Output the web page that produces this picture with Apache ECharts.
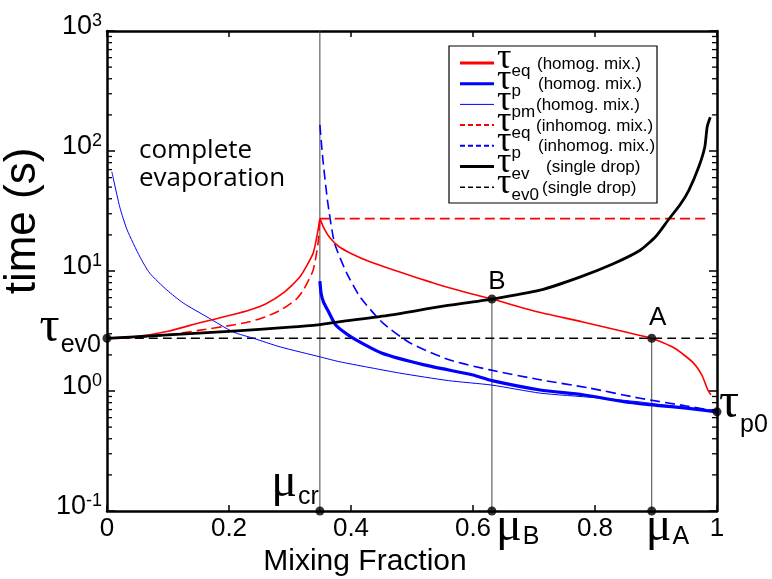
<!DOCTYPE html>
<html>
<head>
<meta charset="utf-8">
<script src="https://cdn.jsdelivr.net/npm/echarts@6/dist/echarts.min.js"></script>
<style>
html, body { margin: 0; padding: 0; background: #fff; }
#main { width: 772px; height: 579px; }
</style>
</head>
<body>
<div id="main"></div>
<script>
// Characteristic mixing fractions and reference time scales (s)
const MU_CR = 0.349;
const MU_B = 0.631;
const MU_A = 0.893;
const TAU_EV0 = 2.75;
const TAU_P0 = 0.67;
const TAU_B = 5.84;
const TAU_EQ_PEAK = 27.3;
const Y_MIN = 0.1;
const Y_MAX = 1000;
const X_TICKS = [0, 0.2, 0.4, 0.6, 0.8, 1];

// tau_eq, homogeneous mixing: rising branch up to mu_cr, then falling branch
const eqHomogRiseMu = [0, 0.05, 0.1, 0.152, 0.2, 0.234, 0.26, 0.289, 0.316, 0.338, 0.346, MU_CR];
const eqHomogRise   = [2.75, 2.85, 3.15, 3.7, 4.25, 4.73, 5.3, 6.56, 8.9, 14.1, 22, TAU_EQ_PEAK];
const eqHomogFallMu = [MU_CR, 0.356, 0.365, 0.38, 0.4, 0.43, 0.48, 0.54, 0.6, MU_B, 0.7, 0.78, 0.85, MU_A, 0.93, 0.96, 0.975, 0.985, 0.99];
const eqHomogFall   = [TAU_EQ_PEAK, 22.5, 19, 16, 14, 12, 9.8, 7.8, 6.4, TAU_B, 4.64, 3.76, 3.1, 2.75, 2.28, 1.74, 1.36, 1.02, 0.93];

// tau_p, homogeneous mixing
const pHomogMu = [MU_CR, 0.351, 0.355, 0.362, 0.375, 0.4, 0.45, 0.52, 0.6, MU_B, 0.71, 0.78, 0.85, 0.9, 0.95, 1.0];
const pHomog   = [8.25, 6.5, 5.5, 4.7, 3.55, 2.82, 2.07, 1.65, 1.36, 1.22, 1.02, 0.93, 0.81, 0.76, 0.72, 0.67];

// tau_pm, homogeneous mixing
const pmHomogMu = [0.008, 0.021, 0.033, 0.054, 0.07, 0.098, 0.125, 0.164, 0.207, 0.24, 0.284, 0.35, 0.382, 0.48, 0.56, MU_B, 0.71, 0.8, 0.874, 0.95, 1.0];
const pmHomog   = [67, 34, 22, 13.1, 9.6, 6.95, 5.41, 4.14, 3.1, 2.75, 2.33, 1.92, 1.75, 1.41, 1.22, 1.12, 0.96, 0.88, 0.81, 0.72, 0.67];

// tau_eq, inhomogeneous mixing: rising branch, then constant beyond mu_cr
const eqInhomogRiseMu = [0, 0.05, 0.098, 0.15, 0.207, 0.234, 0.26, 0.287, 0.31, 0.322, 0.338, 0.346, MU_CR];
const eqInhomogRise   = [2.75, 2.8, 2.93, 3.2, 3.55, 3.78, 4.15, 4.8, 5.8, 6.95, 10.2, 17.1, TAU_EQ_PEAK];
const eqInhomogFlatMu = [MU_CR, 0.985];
const eqInhomogFlat   = [TAU_EQ_PEAK, TAU_EQ_PEAK];

// tau_p, inhomogeneous mixing
const pInhomogMu = [MU_CR, 0.354, 0.362, 0.373, 0.393, 0.415, 0.452, 0.497, 0.562, 0.628, 0.71, 0.79, 0.874, 0.95, 1.0];
const pInhomog   = [165, 84, 36.9, 17.1, 9.6, 6.07, 3.69, 2.51, 1.81, 1.5, 1.24, 1.06, 0.87, 0.75, 0.68];

// tau_ev, single drop
const evMu = [0, 0.1, 0.2, 0.3, MU_CR, 0.382, 0.464, 0.546, MU_B, 0.71, 0.775, 0.83, 0.874, 0.9, 0.92, 0.94, 0.954, 0.97, 0.98, 0.984, 0.989];
const ev   = [2.75, 2.93, 3.14, 3.4, 3.58, 3.78, 4.29, 5.04, TAU_B, 6.93, 8.9, 11.5, 14.9, 19.5, 26.6, 36, 47.3, 73.5, 108, 160, 191];

// tau_ev0, single drop (constant)
const ev0Mu = [0, 1];
const ev0   = [TAU_EV0, TAU_EV0];

// Legend entries: subscript and note
const legendSubs  = ['eq', 'p', 'pm', 'eq', 'p', 'ev', 'ev0'];
const legendNotes = ['(homog. mix.)', '(homog. mix.)', '(homog. mix.)', '(inhomog. mix.)', '(inhomog. mix.)', '(single drop)', '(single drop)'];

const FONT = 'Liberation Sans';
const GREEK = 'Liberation Serif';
const RED = '#ff0000';
const BLUE = '#0000ff';
const BLACK = '#000000';

const pairs = (xs, ys) => xs.map((x, i) => [x, ys[i]]);

// One style per legend entry (legendWidth: stroke used for the legend sample)
const styles = [
  { color: RED,   width: 1.6, legendWidth: 3,   type: 'solid' },
  { color: BLUE,  width: 3.2, legendWidth: 3,   type: 'solid' },
  { color: BLUE,  width: 1.0, legendWidth: 1,   type: 'solid' },
  { color: RED,   width: 1.6, legendWidth: 2,   type: [10, 5] },
  { color: BLUE,  width: 1.6, legendWidth: 2,   type: [10, 5] },
  { color: BLACK, width: 2.8, legendWidth: 3,   type: 'solid' },
  { color: BLACK, width: 1.5, legendWidth: 1.6, type: [9, 5] }
];

function curve(name, styleIdx, data, z) {
  const s = styles[styleIdx];
  return {
    name: name,
    type: 'line',
    data: data,
    showSymbol: false,
    symbol: 'none',
    smooth: 0.2,
    z: z || 2,
    lineStyle: { color: s.color, width: s.width, type: s.type, join: 'round', cap: 'butt' },
    emphasis: { disabled: true }
  };
}

function guide(data) {
  return {
    type: 'line',
    data: data,
    showSymbol: false,
    symbol: 'none',
    z: 1,
    lineStyle: { color: '#444', width: 1 },
    emphasis: { disabled: true }
  };
}

const dots = [
  [0, TAU_EV0], [1, TAU_P0],
  [MU_CR, Y_MIN], [MU_B, Y_MIN], [MU_A, Y_MIN],
  [MU_B, TAU_B], [MU_A, TAU_EV0]
];

const axisLineStyle = { color: '#000', width: 2.5 };

const option = {
  animation: false,
  backgroundColor: '#fff',
  grid: { left: 107, right: 55, top: 31, bottom: 68, outerBoundsMode: 'none' },
  xAxis: [
    {
      type: 'value', min: 0, max: 1, interval: 0.2, position: 'bottom',
      axisLine: { show: true, onZero: false, lineStyle: axisLineStyle },
      axisTick: { show: true, inside: true, length: 6, lineStyle: { color: '#000', width: 1.5 } },
      axisLabel: {
        margin: 5, fontSize: 26, fontFamily: FONT, color: '#000',
        showMinLabel: true, showMaxLabel: true,
        formatter: v => String(X_TICKS.find(t => Math.abs(t - v) < 1e-9) ?? v)
      },
      splitLine: { show: false },
      name: 'Mixing Fraction', nameLocation: 'middle', nameGap: 32,
      nameTextStyle: { fontSize: 30, fontFamily: FONT, color: '#000', padding: [0, 94, 0, 0] }
    },
    {
      type: 'value', min: 0, max: 1, interval: 0.2, position: 'top',
      axisLine: { show: true, onZero: false, lineStyle: axisLineStyle },
      axisTick: { show: true, inside: true, length: 6, lineStyle: { color: '#000', width: 1.5 } },
      axisLabel: { show: false },
      splitLine: { show: false }
    }
  ],
  yAxis: [
    {
      type: 'log', logBase: 10, min: Y_MIN, max: Y_MAX, position: 'left',
      axisLine: { show: true, onZero: false, lineStyle: axisLineStyle },
      axisTick: { show: true, inside: true, length: 8, lineStyle: { color: '#000', width: 1.5 } },
      axisLabel: {
        margin: 5, color: '#000', showMinLabel: true, showMaxLabel: true,
        formatter: v => '{b|10}{s|' + Math.round(Math.log10(v)) + '}',
        rich: {
          b: { fontSize: 27, fontFamily: FONT, lineHeight: 26, padding: [0, 0, 4, 0], verticalAlign: 'bottom' },
          s: { fontSize: 18, fontFamily: FONT, lineHeight: 18, padding: [0, 0, 20, 0] }
        }
      },
      splitLine: { show: false },
      name: 'time (s)', nameLocation: 'middle', nameGap: 46, nameRotate: 90,
      nameTextStyle: { fontSize: 44, fontFamily: FONT, color: '#000', padding: [0, 0, 0, 100] }
    },
    {
      type: 'log', logBase: 10, min: Y_MIN, max: Y_MAX, position: 'right',
      axisLine: { show: true, onZero: false, lineStyle: axisLineStyle },
      axisTick: { show: true, inside: true, length: 8, lineStyle: { color: '#000', width: 1.5 } },
      axisLabel: { show: false },
      splitLine: { show: false }
    }
  ],
  series: [
    guide([[MU_CR, Y_MIN], [MU_CR, Y_MAX]]),
    guide([[MU_B, Y_MIN], [MU_B, TAU_B]]),
    guide([[MU_A, Y_MIN], [MU_A, TAU_EV0]]),
    curve('tau_ev0', 6, pairs(ev0Mu, ev0), 2),
    curve('tau_pm_homog', 2, pairs(pmHomogMu, pmHomog), 3),
    curve('tau_p_inhomog', 4, pairs(pInhomogMu, pInhomog), 3),
    curve('tau_eq_inhomog', 3, pairs(eqInhomogRiseMu, eqInhomogRise), 3),
    curve('tau_eq_inhomog', 3, pairs(eqInhomogFlatMu, eqInhomogFlat), 3),
    curve('tau_p_homog', 1, pairs(pHomogMu, pHomog), 4),
    curve('tau_eq_homog', 0, pairs(eqHomogRiseMu, eqHomogRise), 4),
    curve('tau_eq_homog', 0, pairs(eqHomogFallMu, eqHomogFall), 4),
    curve('tau_ev', 5, pairs(evMu, ev), 5),
    {
      type: 'scatter', data: dots, symbol: 'circle', symbolSize: 9, clip: false, z: 10,
      itemStyle: { color: '#000' }, emphasis: { disabled: true }
    }
  ]
};

const chart = echarts.init(document.getElementById('main'), null, { renderer: 'canvas' });
chart.setOption(option);

// ---- decorations placed through the axis scales ----
const px = v => chart.convertToPixel({ xAxisIndex: 0 }, v);
const py = v => chart.convertToPixel({ yAxisIndex: 0 }, v);
const mctx = document.createElement('canvas').getContext('2d');
function textW(str, size, family) {
  mctx.font = size + 'px "' + family + '"';
  return mctx.measureText(str).width;
}
function txt(x, y, str, size, family, align) {
  return {
    type: 'text', silent: true, z: 20,
    style: { x: x, y: y, text: str, fontSize: size, fontFamily: family, fill: '#000', align: align || 'left', verticalAlign: 'middle' }
  };
}
function seg(x1, y1, x2, y2, style) {
  return { type: 'line', silent: true, z: 20, shape: { x1: x1, y1: y1, x2: x2, y2: y2 }, style: style };
}

const gfx = [];
const xl = px(0), xr = px(1);

// log minor ticks (2..9 per decade) on left and right frame
for (let d = Math.round(Math.log10(Y_MIN)); d < Math.round(Math.log10(Y_MAX)); d++) {
  for (let k = 2; k <= 9; k++) {
    const y = py(k * Math.pow(10, d));
    gfx.push(seg(xl, y, xl + 5, y, { stroke: '#000', lineWidth: 1.3 }));
    gfx.push(seg(xr - 5, y, xr, y, { stroke: '#000', lineWidth: 1.3 }));
  }
}

const TAU_SIZE = 50, MU_SIZE = 48, SUB_SIZE = 25;

// annotation: tau_ev0 on the left axis
{
  const x = px(0), y = py(TAU_EV0);
  const subW = textW('ev0', SUB_SIZE, FONT);
  gfx.push(txt(x - 6, y + 7, 'ev0', SUB_SIZE, FONT, 'right'));
  gfx.push(txt(x - 7 - subW, y - 10, 'τ', TAU_SIZE, GREEK, 'right'));
}
// annotation: tau_p0 on the right axis
{
  const x = px(1), y = py(TAU_P0);
  const tauW = textW('τ', TAU_SIZE, GREEK);
  gfx.push(txt(x + 2, y - 8, 'τ', TAU_SIZE, GREEK, 'left'));
  gfx.push(txt(x + 3 + tauW, y + 13, 'p0', SUB_SIZE, FONT, 'left'));
}
// annotation: mu labels along the bottom axis
{
  const y = py(Y_MIN);
  const muW = textW('μ', MU_SIZE, GREEK);
  const xc = px(MU_CR);
  const crW = textW('cr', SUB_SIZE, FONT);
  gfx.push(txt(xc - 1, y - 14, 'cr', SUB_SIZE, FONT, 'right'));
  gfx.push(txt(xc - 2 - crW, y - 28, 'μ', MU_SIZE, GREEK, 'right'));

  const xb = px(MU_B);
  gfx.push(txt(xb + 4, y + 16, 'μ', MU_SIZE, GREEK, 'left'));
  gfx.push(txt(xb + 5 + muW, y + 26, 'B', SUB_SIZE, FONT, 'left'));

  const xa = px(MU_A);
  gfx.push(txt(xa - 6, y + 16, 'μ', MU_SIZE, GREEK, 'left'));
  gfx.push(txt(xa - 5 + muW, y + 26, 'A', SUB_SIZE, FONT, 'left'));
}
// annotation: intersection points B and A
gfx.push(txt(px(MU_B) + 5, py(TAU_B) - 17, 'B', 26, FONT, 'center'));
gfx.push(txt(px(MU_A) + 6, py(TAU_EV0) - 20, 'A', 26, FONT, 'center'));

// annotation: complete evaporation region
gfx.push({
  type: 'text', silent: true, z: 20,
  style: { x: 139, y: 137, text: 'complete\nevaporation', fontSize: 26, fontFamily: 'Open Sans', fill: '#000', lineHeight: 28, align: 'left', verticalAlign: 'top' }
});

// legend box
{
  const bx = 449, by = 46, bw = 208, bh = 157;
  gfx.push({ type: 'rect', silent: true, z: 19, shape: { x: bx, y: by, width: bw, height: bh }, style: { fill: '#fff', stroke: '#000', lineWidth: 1.2 } });
  const noteX = [537, 538, 536, 536, 538, 546, 542];
  const LT = 36, LS = 17;
  const tauW = textW('τ', LT, GREEK);
  legendSubs.forEach((sub, i) => {
    const cy = by + 17 + i * 20.7;
    const s = styles[i];
    gfx.push(seg(bx + 11, cy, bx + 45, cy, { stroke: s.color, lineWidth: s.legendWidth, lineDash: Array.isArray(s.type) ? [5, 3] : null }));
    gfx.push(txt(bx + 48, cy - 4, 'τ', LT, GREEK, 'left'));
    gfx.push(txt(bx + 48 + tauW, cy + 8, sub, LS, FONT, 'left'));
    gfx.push(txt(noteX[i], cy + 1, legendNotes[i], 17, FONT, 'left'));
  });
}

chart.setOption({ graphic: { elements: gfx } });
</script>
</body>
</html>
